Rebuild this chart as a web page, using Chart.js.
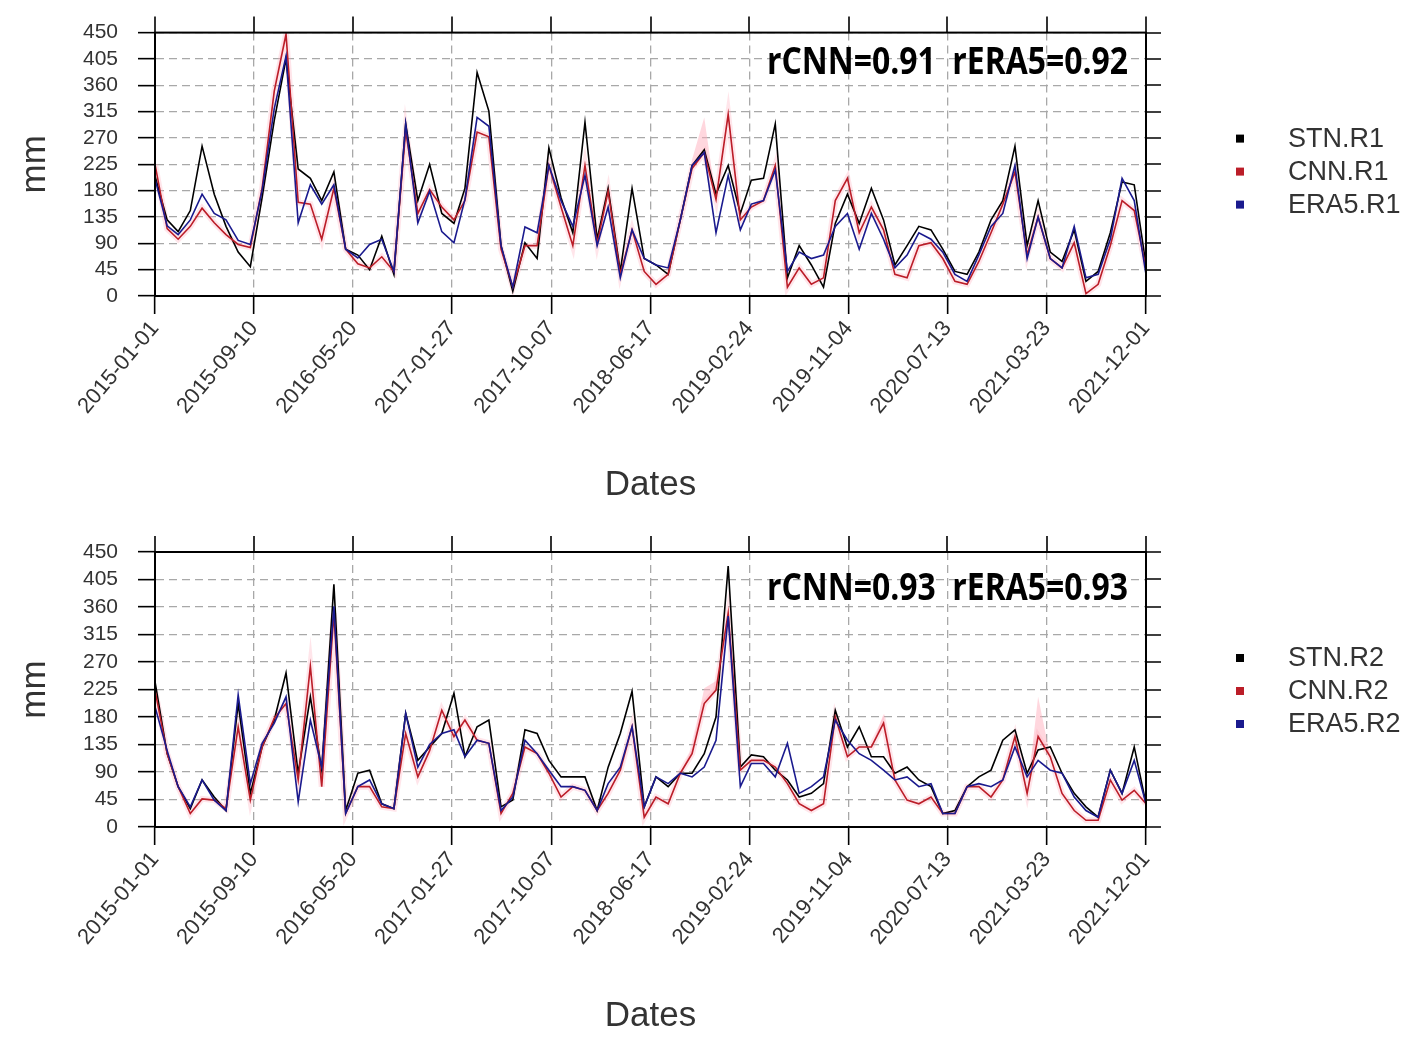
<!DOCTYPE html>
<html>
<head>
<meta charset="utf-8">
<title>Monthly precipitation R1 / R2</title>
<script src="https://cdn.jsdelivr.net/npm/chart.js@4.4.1/dist/chart.umd.min.js"></script>
<style>
    html, body { margin: 0; padding: 0; background: #fff; }
    #wrap { position: relative; width: 1422px; height: 1037px; }
    canvas { position: absolute; left: 0; }
    #c1 { top: 0; }
    #c2 { top: 518px; }
</style>
</head>
<body>
<div id="wrap">
    <canvas id="c1" width="1422" height="518"></canvas>
    <canvas id="c2" width="1422" height="519"></canvas>
</div>
<script>
// x tick labels (dates) and y range
const tickDates = ['2015-01-01', '2015-09-10', '2016-05-20', '2017-01-27', '2017-10-07', '2018-06-17',
    '2019-02-24', '2019-11-04', '2020-07-13', '2021-03-23', '2021-12-01'];
const yMax = 450;
const yStep = 45;

// monthly totals (mm), Jan 2015 - Dec 2021
const stnR1 = [205, 130, 110, 146, 256, 174, 119, 75, 50, 168, 300, 405,
    217, 201, 163, 212, 80, 70, 45, 102, 37, 294, 163, 225,
    141, 124, 184, 382, 316, 86, 8, 91, 64, 253, 168, 108,
    297, 97, 184, 42, 184, 64, 53, 37, 130, 223, 250, 174,
    223, 141, 198, 201, 294, 31, 86, 53, 15, 124, 174, 124,
    184, 130, 53, 86, 119, 113, 80, 42, 37, 75, 130, 163,
    256, 86, 163, 75, 59, 113, 25, 42, 108, 195, 190, 53];
const cnnR1 = [225, 115, 97, 119, 150, 125, 105, 88, 83, 184, 350, 447,
    160, 157, 97, 184, 80, 55, 48, 67, 42, 283, 141, 182,
    152, 130, 163, 280, 272, 80, 15, 86, 86, 223, 152, 86,
    223, 90, 179, 37, 113, 42, 20, 37, 130, 218, 245, 165,
    310, 130, 152, 163, 223, 15, 48, 20, 31, 163, 201, 108,
    152, 113, 37, 31, 86, 91, 64, 25, 20, 59, 108, 157,
    212, 70, 135, 64, 48, 91, 4, 20, 86, 163, 146, 48];
const era5R1 = [200, 120, 105, 130, 174, 141, 130, 95, 88, 180, 320, 410,
    125, 190, 157, 190, 80, 65, 88, 97, 42, 294, 125, 179,
    110, 91, 165, 305, 290, 86, 15, 118, 108, 223, 163, 119,
    206, 86, 152, 31, 113, 64, 53, 48, 130, 223, 245, 108,
    206, 113, 157, 163, 215, 42, 75, 64, 70, 119, 141, 80,
    141, 97, 48, 70, 108, 97, 75, 37, 25, 70, 119, 141,
    223, 64, 135, 64, 48, 119, 31, 37, 97, 201, 163, 37];

const stnR2 = [238, 120, 66, 30, 77, 49, 27, 202, 55, 131, 175, 252,
    88, 213, 93, 397, 27, 88, 93, 38, 30, 186, 109, 131,
    153, 219, 115, 164, 175, 33, 44, 159, 153, 109, 82, 82,
    82, 27, 98, 153, 222, 33, 82, 66, 88, 88, 120, 180,
    427, 98, 118, 115, 93, 77, 49, 55, 71, 191, 131, 164,
    115, 115, 88, 98, 77, 66, 22, 27, 66, 82, 93, 142,
    159, 88, 126, 131, 88, 55, 33, 16, 93, 55, 131, 38];
const cnnR2 = [224, 120, 66, 22, 46, 44, 30, 164, 44, 131, 178, 202,
    77, 263, 66, 350, 22, 66, 66, 33, 30, 153, 82, 125,
    191, 148, 175, 142, 137, 22, 55, 131, 120, 88, 49, 66,
    60, 27, 55, 93, 164, 16, 49, 38, 88, 120, 202, 224,
    350, 93, 109, 109, 98, 71, 38, 27, 38, 180, 115, 131,
    131, 170, 77, 44, 38, 49, 22, 22, 66, 66, 49, 77,
    148, 55, 148, 115, 55, 27, 11, 11, 77, 44, 60, 38];
const era5R2 = [197, 125, 66, 33, 77, 44, 27, 216, 71, 137, 170, 213,
    41, 175, 98, 361, 22, 66, 77, 38, 30, 186, 98, 135,
    153, 159, 115, 142, 137, 27, 49, 142, 120, 93, 66, 66,
    60, 27, 71, 98, 164, 33, 82, 71, 88, 82, 98, 142,
    345, 66, 104, 104, 82, 137, 55, 66, 82, 175, 142, 120,
    109, 93, 77, 82, 66, 71, 22, 22, 66, 71, 66, 77,
    131, 82, 109, 93, 88, 49, 27, 16, 93, 55, 109, 38];

// [month index, spread above CNN] where the ensemble band widens
const cnnR1Spread = [[10, 10], [11, 12], [45, 15], [46, 60], [48, 12]];
const cnnR2Spread = [[45, 10], [46, 25], [47, 15], [61, 15], [74, 65]];

const scoresR1 = 'rCNN=0.91  rERA5=0.92';
const scoresR2 = 'rCNN=0.93  rERA5=0.93';

const colors = { stn: '#000000', cnn: '#bb1d28', era5: '#1a1a8e' };

const DAY = 864e5;
const dayOf = (s) => (Date.parse(s) - Date.parse(tickDates[0])) / DAY;
const months = Array.from({ length: stnR1.length }, (_, i) =>
    dayOf(`${2015 + Math.floor(i / 12)}-${String(i % 12 + 1).padStart(2, '0')}-01`));
const toPoints = (vals) => vals.map((v, i) => ({ x: months[i], y: v }));

// box, top/right ticks, score text and legend
const framePlugin = {
    id: 'frame',
    afterDraw(chart, args, opts) {
        const { ctx, chartArea: a, scales: { x, y } } = chart;
        ctx.save();
        ctx.strokeStyle = '#000';
        ctx.lineWidth = 2;
        ctx.strokeRect(a.left, a.top, a.right - a.left, a.bottom - a.top);

        ctx.lineWidth = 1.6;
        ctx.beginPath();
        x.ticks.forEach(t => {
            const px = Math.round(x.getPixelForValue(t.value));
            ctx.moveTo(px, a.top);
            ctx.lineTo(px, a.top - 16);
        });
        y.ticks.forEach(t => {
            const py = Math.round(y.getPixelForValue(t.value));
            ctx.moveTo(a.right, py);
            ctx.lineTo(a.right + 15, py);
        });
        ctx.stroke();

        // correlation scores
        ctx.font = 'bold 38px "Open Sans"';
        ctx.fillStyle = '#000';
        ctx.textBaseline = 'alphabetic';
        const w = ctx.measureText(opts.scores).width;
        ctx.save();
        ctx.translate(767, a.top + opts.scoreY);
        ctx.scale(361 / w, 1);
        ctx.fillText(opts.scores, 0, 0);
        ctx.restore();

        // legend
        ctx.font = '27px "Liberation Sans"';
        ctx.textBaseline = 'middle';
        const entries = chart.data.datasets.filter(d => d.label);
        entries.forEach((d, i) => {
            const cy = a.top + 106 + i * 33;
            ctx.fillStyle = d.borderColor;
            ctx.fillRect(1236, cy - 4, 8, 8);
            ctx.fillStyle = '#333';
            ctx.fillText(d.label, 1288, cy + 1);
        });
        ctx.restore();
    }
};

function makeChart(canvasId, tag, stn, cnn, era5, spread, scores, cfg) {
    const extra = new Map(spread);
    const bandHi = cnn.map((v, i) => v + (extra.get(i) || 0));

    const line = (label, vals, color, order) => ({
        label, data: toPoints(vals), borderColor: color, backgroundColor: color,
        borderWidth: 1.6, pointRadius: 0, tension: 0, order
    });

    return new Chart(document.getElementById(canvasId), {
        type: 'line',
        data: {
            datasets: [
                line('STN.' + tag, stn, colors.stn, 2),
                line('CNN.' + tag, cnn, colors.cnn, 1),
                line('ERA5.' + tag, era5, colors.era5, 0),
                {
                    data: toPoints(cnn), borderColor: 'rgba(255,170,185,0.3)', borderWidth: 6,
                    pointRadius: 0, tension: 0, order: 4
                },
                {
                    data: toPoints(bandHi), borderWidth: 0, pointRadius: 0, tension: 0, order: 5,
                    fill: { target: 1 }, backgroundColor: 'rgba(255,175,190,0.5)'
                }
            ]
        },
        options: {
            responsive: false,
            animation: false,
            layout: { padding: { left: 0, right: 276, top: cfg.top, bottom: 0 } },
            plugins: {
                legend: { display: false },
                tooltip: { enabled: false },
                frame: { scores, scoreY: cfg.scoreY }
            },
            scales: {
                x: {
                    type: 'linear',
                    min: 0,
                    max: dayOf(tickDates[tickDates.length - 1]),
                    afterBuildTicks: (s) => { s.ticks = tickDates.map(d => ({ value: dayOf(d) })); },
                    afterFit: (s) => { s.height = cfg.axisH; },
                    ticks: {
                        autoSkip: false, minRotation: 50, maxRotation: 50, padding: 2,
                        color: '#333', font: { family: 'Liberation Sans', size: 22 },
                        callback: (v) => tickDates.find(d => dayOf(d) === v) || ''
                    },
                    grid: {
                        color: '#a8a8a8', lineWidth: 1.3, tickLength: 18,
                        tickColor: '#000', tickWidth: 1.6, tickBorderDash: []
                    },
                    border: { display: true, color: '#000', width: 2, dash: [8, 5] },
                    title: {
                        display: true, text: 'Dates', color: '#333',
                        font: { family: 'Liberation Sans', size: 35 },
                        padding: { top: 0, bottom: cfg.titlePad }
                    }
                },
                y: {
                    min: 0,
                    max: yMax,
                    afterFit: (s) => { s.width = 155; },
                    ticks: {
                        stepSize: yStep, autoSkip: false, padding: 20, color: '#333',
                        font: { family: 'Liberation Sans', size: 21 }
                    },
                    grid: {
                        color: '#a8a8a8', lineWidth: 1.3, tickLength: 17,
                        tickColor: '#000', tickWidth: 1.6, tickBorderDash: []
                    },
                    border: { display: true, color: '#000', width: 2, dash: [8, 5] },
                    title: {
                        display: true, text: 'mm', color: '#333',
                        font: { family: 'Liberation Sans', size: 35 },
                        padding: { top: 14, bottom: 0 }
                    }
                }
            }
        },
        plugins: [framePlugin]
    });
}

makeChart('c1', 'R1', stnR1, cnnR1, era5R1, cnnR1Spread, scoresR1,
    { top: 21, axisH: 222, titlePad: 12, scoreY: 41 });
makeChart('c2', 'R2', stnR2, cnnR2, era5R2, cnnR2Spread, scoresR2,
    { top: 34, axisH: 210, titlePad: 0, scoreY: 48 });
</script>
</body>
</html>
